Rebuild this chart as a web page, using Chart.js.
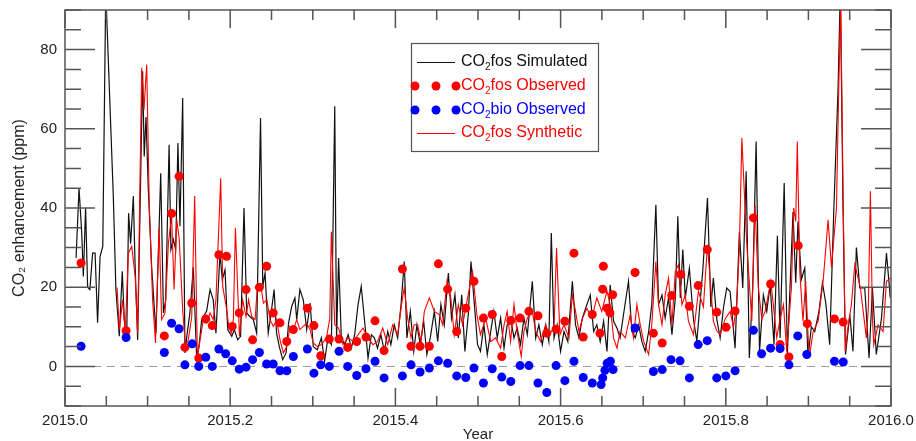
<!DOCTYPE html>
<html>
<head>
<meta charset="utf-8">
<script src="https://cdn.jsdelivr.net/npm/chart.js@4.4.1/dist/chart.umd.min.js"></script>
<style>
  html, body { margin: 0; padding: 0; background: #fff; }
  #wrap { width: 916px; height: 441px; }
</style>
</head>
<body>
<div id="wrap"><canvas id="co2-chart" width="916" height="441"></canvas></div>
<script>
// day of year 2015 -> value (ppm)
const simDays = [4.9, 6.2, 7.4, 8.1, 9.1, 10, 11, 12.2, 13.3, 14.4, 15.5, 16.7, 18, 21.3, 22.5, 24, 25.3, 26.2, 27.3, 28.1, 29, 30.2, 30.9, 32.1, 34.3, 35, 35.8, 36.8, 38.3, 40.2, 42.3, 43.5, 44.5, 46, 46.8, 47.9, 48.9, 49.9, 50.8, 52, 53, 54, 55.2, 56.7, 58.2, 59.2, 60.4, 62.6, 64.1, 65.5, 66.7, 68.5, 69.5, 70.7, 71.9, 73.7, 74.8, 76.3, 77.6, 79.1, 80.3, 81.7, 83.2, 84.7, 86.4, 87.4, 88.4, 89.8, 90.9, 92.4, 93.5, 94.7, 96.2, 97.7, 98.8, 100.2, 101.6, 102.4, 103.8, 105.3, 106.8, 108.3, 109.7, 111.5, 113.3, 114.7, 116.2, 117.7, 119.2, 120, 120.9, 122.1, 123.6, 125.1, 126.5, 128, 129.5, 130.9, 132.4, 133.9, 135.4, 136.7, 138.1, 139.6, 141.1, 142.6, 144, 145.5, 147, 148.5, 149.9, 151.1, 152.6, 154.1, 155.5, 157, 158.5, 159.9, 161.4, 163.2, 164.7, 166.1, 167.6, 169.4, 170.8, 172.3, 173.8, 175.3, 176.7, 178.2, 179.4, 180.9, 182.3, 183.6, 185.1, 186.6, 188.1, 189.5, 191, 192.5, 194, 195.4, 196.9, 198.4, 199.8, 201.3, 202.8, 204.3, 206.5, 208, 209.4, 210.9, 212.4, 213.8, 214.9, 216.1, 217.5, 219, 220.5, 222.2, 224.2, 225.6, 227.1, 228.6, 230.6, 232.1, 233.6, 235, 236.5, 238, 239.5, 240.9, 242.4, 243.9, 245.3, 246.8, 249, 250.5, 252, 253.5, 254.9, 256.4, 257.9, 259.3, 261.1, 262.3, 263.8, 265.2, 266.7, 268.2, 269.7, 270.8, 271.9, 273, 274.1, 275.9, 277.7, 279.2, 281.8, 283.9, 285.4, 286.5, 288, 289.5, 291, 292.4, 293.9, 296.1, 298, 299.5, 301, 302.4, 303.9, 305.4, 306.9, 308.6, 310.1, 311.6, 313.3, 314.8, 316, 317.8, 319.2, 321.7, 322.9, 323.9, 325.4, 326.9, 328.3, 329.8, 331.3, 333.2, 334.7, 336.2, 337.9, 339.7, 341.6, 342.6, 343.8, 344.9, 346.8, 348.2, 349.7, 351.2, 353.4, 355.3, 356.8, 358.5, 360.8, 363, 364.7];
const simValues = [27.4, 45, 33.7, 22.7, 40, 20, 19.4, 28.6, 28.6, 11, 27.8, 30.3, 95, 43.8, 19.4, 7.6, 24, 11.8, 8.4, 38.7, 31, 43, 27, 6.7, 74.5, 53, 63, 45, 25, 8.4, 48.8, 13.5, 16.8, 56, 29.5, 32, 29.5, 56.4, 35.4, 67.8, 3.4, 8.4, 13.5, 25, 1.7, 5, 11.8, 14, 19.4, 16.8, 8.4, 28.6, 21.9, 24.4, 9.3, 7.6, 9.3, 6.7, 7.6, 40, 13.5, 12.6, 11.8, 8.4, 62.7, 20.2, 23.6, 8.4, 12.6, 19.4, 8.4, 5, 1.7, 3.4, 11, 15.2, 17.3, 11.8, 19.4, 16.8, 9.3, 16, 5, 4.2, 7.2, 1.3, 7.2, 5.5, 65.7, 7.2, 27.4, 7.2, 5.5, 8, 4.6, 8, 15.6, 20.2, 11.4, 2.1, 8, 7.2, 4.6, 8, 3.8, 8.8, 5.5, 10.5, 7.2, 15.6, 26.5, 7.2, 13.9, 3.8, 10.5, 5.5, 11.4, 3, 7.2, 13.9, 6.3, 15.6, 10.5, 23.6, 12.2, 18.1, 7.2, 18.1, 3.8, 13.1, 26.5, 15.6, 5.5, 3.8, 10.5, 3, 8.8, 13.9, 7.2, 12.2, 4.6, 10.5, 12.2, 7.2, 9.7, 5.5, 12.2, 8, 21.5, 7.2, 10.5, 5.5, 10.5, 6.3, 33.7, 7.2, 10.5, 3.8, 8.8, 6.3, 21.5, 10.5, 7.2, 12.2, 15.6, 18, 8.8, 10.5, 6.3, 11.4, 3.8, 20.6, 11.4, 9.7, 7.2, 13.1, 21.5, 8.8, 7.2, 10.5, 6.3, 3.8, 8.8, 15.6, 40.8, 15.6, 18, 12.2, 17.3, 8, 17.3, 37.9, 17.3, 29.5, 17.3, 24.8, 12, 6.3, 24, 42.5, 15, 22.3, 12, 7.2, 15, 19.8, 18.9, 4.6, 34, 19.8, 49.3, 2.1, 20, 56.8, 3.8, 18, 13.9, 20.6, 5.5, 33, 7.2, 46.3, 3, 39, 21.1, 36.6, 22, 24.8, 2.1, 10, 8.8, 14, 21.1, 16, 5.5, 39, 70, 95, 40, 3, 13.1, 3.8, 30, 19.8, 19.8, 2.1, 19.8, 3, 12.2, 28.6, 17.3];

const synDays = [23, 24, 25.5, 26.6, 28, 29.5, 31, 32.1, 33.9, 34.9, 36.1, 37.2, 38.7, 40, 41.6, 42.7, 44.2, 45.7, 47.1, 48.2, 49.4, 50.5, 52, 53.2, 54.5, 56, 57.3, 58.5, 59.7, 61.1, 62.6, 64.1, 65.5, 66.7, 68.8, 69.7, 71.2, 72.2, 73.4, 74.4, 75.3, 77.1, 78.5, 80, 81.1, 82.5, 84, 85, 86.5, 87.7, 89.2, 90.6, 92.1, 93.5, 95, 96.5, 98, 99.4, 100.9, 102.4, 103.8, 105.3, 106.8, 108.3, 109.7, 111.5, 113.3, 115.5, 117, 117.7, 119.2, 120.9, 122.8, 125.1, 127.3, 129.5, 131.7, 133.9, 136.1, 138.1, 140.4, 142.6, 144.8, 147, 148.7, 149.9, 151.4, 152.9, 154.3, 155.8, 157.3, 158.8, 161, 163.2, 165.4, 166.9, 168.8, 170.5, 172, 173.8, 175.7, 177.9, 180.1, 182, 183.6, 185.9, 188.1, 190.3, 192.5, 194, 195.4, 196.9, 198.4, 199.8, 201.6, 202.8, 204.3, 206.5, 208, 210.2, 212.4, 213.8, 216.1, 217.2, 218.7, 220.5, 222.7, 224.2, 225.6, 227.1, 228.6, 230.6, 232.8, 235, 237.2, 239.5, 240.9, 242.4, 243.9, 245.3, 247.6, 249.8, 251.2, 252.7, 254.2, 255.7, 257.9, 259.3, 261.1, 262.3, 263.8, 265.2, 266.7, 268.2, 269.7, 271.1, 272.6, 274.1, 275.5, 277.7, 279.9, 282.1, 283.9, 286.5, 288, 289.5, 291.7, 293.9, 295.4, 296.8, 298, 299.1, 300.1, 301.3, 303.5, 304.9, 306.4, 307.9, 309.4, 311.9, 314.5, 316, 317.5, 318.9, 321, 322, 322.9, 323.6, 324.7, 326.1, 327.3, 328.8, 330.6, 332.8, 335, 337.2, 338.7, 340.9, 341.9, 342.8, 343.8, 344.8, 346, 347.5, 349, 351.5, 354.1, 355, 355.9, 356.8, 357.4, 359.3, 361.5, 363, 364.7];
const synValues = [19.9, 9.3, 16.8, 8.4, 28.6, 30.3, 22.7, 8.4, 75.4, 64.8, 76.2, 42, 16.8, 5.9, 35, 11.8, 13.5, 31.2, 37.9, 19.4, 37, 32, 14.3, 5, 6.7, 12.6, 43, 2.5, 6.7, 11.8, 10.9, 13.5, 11.8, 16.8, 47.5, 20.2, 15.2, 10.9, 8.4, 11.8, 35, 7.6, 16.8, 12.6, 16.8, 12.6, 11.8, 20.2, 20.2, 16, 16.8, 11.8, 10.1, 11.8, 6.7, 3.4, 5, 10.1, 9.3, 11.8, 9.3, 10.1, 10.9, 9.3, 5.9, 5, 5.5, 7.2, 12, 34, 10.5, 9.7, 5.5, 7.2, 6.3, 8, 9.7, 7.2, 5.5, 6.3, 9.7, 5.5, 10.5, 8, 15.6, 19.8, 12.2, 7.2, 10.5, 10.5, 6.3, 13.9, 17.3, 13.9, 13.1, 10.5, 21.5, 17.3, 8, 15.6, 10.5, 17.3, 24, 13.1, 8, 12.2, 6.3, 7.2, 4.6, 10.5, 13.9, 6.3, 15.6, 8.8, 2.5, 8.8, 12.2, 13.9, 8.8, 6.3, 10.5, 8, 9.7, 29.9, 8, 10.5, 7.2, 18, 13.9, 8.8, 12, 14.7, 12.2, 17.3, 13.9, 19, 15.6, 7.2, 4.6, 8.8, 7.2, 13.1, 7.2, 15.6, 10.5, 6.3, 3, 10.5, 26.5, 15.6, 10.5, 18, 22.3, 10.5, 24, 25.7, 15.6, 18, 11.4, 8, 19, 15, 30.7, 11.4, 9, 8, 12, 13.9, 10, 15.6, 30, 57.7, 45, 30.7, 11.4, 40.8, 19.8, 12, 13.9, 21.5, 7.2, 12, 15.6, 3.8, 20, 40, 36.6, 56.8, 24, 11.4, 21.5, 2.1, 8.8, 11.4, 21.5, 37, 25, 40, 70, 92, 45, 3.8, 10, 15.6, 25.7, 19.8, 7.2, 15, 44.2, 12, 5.5, 10.5, 8.8, 21.5, 22.3];

const fosObsDays = [7.1, 27, 43.9, 47.1, 50.4, 53, 56, 59.1, 62.2, 65.1, 68, 71.4, 73.9, 77, 80, 82.9, 85.9, 89.1, 92, 95, 98, 100.9, 107.1, 110, 113, 116.8, 121.1, 124.9, 128.9, 133, 137, 141, 149.1, 152.9, 156.9, 161, 165, 169.1, 173.1, 177.1, 180.7, 184.9, 188.8, 193, 197, 201.1, 205, 209, 212.9, 217, 220.9, 224.9, 229, 233, 236.4, 237.6, 237.9, 239.6, 240.8, 242, 251.9, 260, 263.9, 268.1, 272.1, 275.9, 279.8, 283.8, 288, 292.1, 296.1, 304.2, 311.8, 316, 319.9, 324, 328, 340, 343.9];
const fosObsValues = [26.1, 9, 7.7, 38.6, 48, 4.8, 16, 2.1, 12, 10.3, 28.2, 27.8, 10.1, 13.5, 19.4, 6.7, 20, 25.3, 13.5, 11, 6.3, 9.3, 14.7, 10.3, 2.7, 6.9, 6.9, 4.8, 6.3, 7.4, 11.5, 4, 24.6, 5.1, 5.1, 5.1, 25.9, 19.5, 8.8, 14.7, 21.5, 12.2, 13.1, 2.5, 11.6, 12.2, 13.9, 12.8, 8.4, 9.4, 11.4, 28.6, 7.4, 13.1, 8.4, 19.5, 25.3, 14.7, 13.5, 18.1, 23.7, 8.4, 5.9, 17.9, 23.2, 15.2, 20.4, 29.5, 13.7, 9.9, 14, 37.5, 20.8, 5.5, 2.4, 30.5, 10.8, 12, 11.2];

const bioObsDays = [7.1, 27, 43.9, 47.1, 50.4, 53, 56.2, 59.1, 62.2, 65.1, 68, 71, 73.9, 77, 80, 82.9, 85.9, 89.1, 92, 95, 98, 100.9, 107.1, 110, 113, 116.8, 121.1, 124.9, 128.9, 133, 137, 141, 149.1, 152.9, 156.9, 161, 165, 169.1, 173.1, 177.1, 180.7, 184.9, 188.8, 193, 197, 201.1, 205, 209, 212.9, 217, 220.9, 224.9, 229, 233, 236.9, 237.6, 238.6, 239.6, 241, 242.2, 251.9, 260, 263.9, 267.8, 271.8, 275.9, 279.8, 283.8, 288, 292, 296.1, 304.2, 307.8, 311.8, 316, 319.9, 323.8, 327.8, 340, 343.9];
const bioObsValues = [5.1, 7.3, 3.5, 10.9, 9.5, 0.4, 5.7, 0, 2.3, 0, 4.4, 3.2, 1.4, -0.7, -0.2, 1.7, 3.5, 0.6, 0.6, -1.1, -1.1, 2.5, 4.4, -1.7, 0.4, 0, 3.8, 0, -2.3, -0.6, 1.3, -2.9, -2.4, 0.4, -1.4, -0.4, 1.4, 0.8, -2.4, -2.8, -0.4, -4.2, -0.6, -2.7, -3.8, 0.2, 0.2, -4.2, -6.6, 0.2, -3.6, 1.3, -2.8, -4.2, -4.6, -2.9, -1, 0.8, 1.3, -0.8, 9.7, -1.3, -0.8, 1.7, 1.4, -2.9, 5.5, 6.5, -2.9, -2.4, -1.1, 9.1, 3.2, 4.6, 4.5, 0.4, 7.7, 3, 1.3, 1.1];

const xTickValues = [2015.0, 2015.2, 2015.4, 2015.6, 2015.8, 2016.0];
const yTickValues = [0, 20, 40, 60, 80];
const legendOrder = ['CO₂fos Simulated', 'CO₂fos Observed', 'CO₂bio Observed', 'CO₂fos Synthetic'];

const FONT = "'Liberation Sans', Arial, Helvetica, sans-serif";
const toYear = d => 2015 + d / 365;
const toPoints = (days, values) => days.map((d, i) => ({ x: toYear(d), y: values[i] }));

// inward ticks on all four sides, box frame, dashed zero line and the boxed legend
const framePlugin = {
  id: 'frame',
  beforeDatasetsDraw(chart) {
    const { ctx, chartArea: a, scales: { y } } = chart;
    const y0 = Math.round(y.getPixelForValue(0)) + 0.5;
    ctx.save();
    ctx.strokeStyle = '#9a9a9a';
    ctx.lineWidth = 1;
    ctx.setLineDash([8, 6]);
    ctx.beginPath();
    ctx.moveTo(a.left, y0);
    ctx.lineTo(a.right, y0);
    ctx.stroke();
    ctx.restore();
  },
  afterDatasetsDraw(chart) {
    const { ctx, chartArea: a, scales: { x, y } } = chart;
    ctx.save();
    ctx.strokeStyle = '#555';
    ctx.lineWidth = 1.5;
    ctx.beginPath();
    for (let k = 0; k <= 20; k++) {
      const v = 2015 + k * 0.05;
      const px = x.getPixelForValue(v);
      const major = k % 4 === 0;
      const len = major ? 18 : 10;
      ctx.moveTo(px, a.bottom); ctx.lineTo(px, a.bottom - len);
      ctx.moveTo(px, a.top); ctx.lineTo(px, a.top + len);
    }
    for (let v = -10; v <= 90; v += 5) {
      const py = y.getPixelForValue(v);
      const major = v % 20 === 0;
      const len = major ? 30 : 16;
      ctx.moveTo(a.left, py); ctx.lineTo(a.left + len, py);
      ctx.moveTo(a.right, py); ctx.lineTo(a.right - len, py);
    }
    ctx.stroke();
    ctx.strokeRect(a.left, a.top, a.right - a.left, a.bottom - a.top);

    // legend box
    const box = { left: 411, top: 43, width: 187, height: 108 };
    ctx.fillStyle = '#fff';
    ctx.fillRect(box.left, box.top, box.width, box.height);
    ctx.lineWidth = 1.2;
    ctx.strokeStyle = '#555';
    ctx.strokeRect(box.left + 0.5, box.top + 0.5, box.width, box.height);

    const rowY = [62, 86, 110, 133];
    legendOrder.forEach((label, i) => {
      const ds = chart.data.datasets.find(d => d.label === label);
      const cy = rowY[i];
      if (ds.showLine) {
        ctx.strokeStyle = ds.borderColor;
        ctx.lineWidth = 1;
        ctx.beginPath();
        ctx.moveTo(417, cy + 0.5);
        ctx.lineTo(455, cy + 0.5);
        ctx.stroke();
      } else {
        ctx.fillStyle = ds.pointBackgroundColor;
        [415, 436, 456].forEach(cx => {
          ctx.beginPath();
          ctx.arc(cx, cy, 4.5, 0, Math.PI * 2);
          ctx.fill();
        });
      }
      const [head, tail] = label.split('₂');
      ctx.fillStyle = ds.legendText;
      ctx.textBaseline = 'middle';
      ctx.textAlign = 'left';
      ctx.font = `16px ${FONT}`;
      let tx = 461;
      ctx.fillText(head, tx, cy);
      tx += ctx.measureText(head).width;
      ctx.font = `10px ${FONT}`;
      ctx.fillText('2', tx, cy + 5);
      tx += ctx.measureText('2').width;
      ctx.font = `16px ${FONT}`;
      ctx.fillText(tail, tx, cy);
    });
    ctx.restore();
  }
};

new Chart(document.getElementById('co2-chart'), {
  type: 'scatter',
  data: {
    datasets: [
      {
        label: 'CO₂bio Observed',
        data: toPoints(bioObsDays, bioObsValues),
        showLine: false,
        pointRadius: 4.5,
        pointBackgroundColor: '#0000ff',
        pointBorderWidth: 0,
        legendText: '#0000ff',
        order: 0
      },
      {
        label: 'CO₂fos Observed',
        data: toPoints(fosObsDays, fosObsValues),
        showLine: false,
        pointRadius: 4.5,
        pointBackgroundColor: '#ff0000',
        pointBorderWidth: 0,
        legendText: '#ff0000',
        order: 1
      },
      {
        label: 'CO₂fos Synthetic',
        data: toPoints(synDays, synValues),
        showLine: true,
        borderColor: '#ff0000',
        borderWidth: 1.1,
        pointRadius: 0,
        tension: 0,
        legendText: '#ff0000',
        order: 2
      },
      {
        label: 'CO₂fos Simulated',
        data: toPoints(simDays, simValues),
        showLine: true,
        borderColor: '#111111',
        borderWidth: 1.2,
        pointRadius: 0,
        tension: 0,
        legendText: '#111111',
        order: 3
      }
    ]
  },
  options: {
    responsive: false,
    animation: false,
    layout: { padding: { top: 10, right: 25, left: 0, bottom: 0 } },
    plugins: { legend: { display: false }, tooltip: { enabled: false } },
    scales: {
      x: {
        type: 'linear',
        min: 2015,
        max: 2016,
        afterBuildTicks: axis => { axis.ticks = xTickValues.map(v => ({ value: v })); },
        afterFit: axis => {
          axis.height = 35;
          axis.paddingLeft = 0;
          axis.paddingRight = 0;
        },
        grid: { display: false, drawTicks: false },
        border: { display: false },
        ticks: {
          autoSkip: false,
          maxRotation: 0,
          padding: 6,
          color: '#222',
          font: { family: FONT, size: 15 },
          callback: v => v.toFixed(1)
        },
        title: { display: true, text: 'Year', color: '#222', font: { family: FONT, size: 15 }, padding: { top: 0, bottom: -3 } }
      },
      y: {
        min: -10,
        max: 90,
        afterBuildTicks: axis => { axis.ticks = yTickValues.map(v => ({ value: v })); },
        afterFit: axis => {
          axis.width = 65;
          axis.paddingTop = 0;
          axis.paddingBottom = 0;
        },
        grid: { display: false, drawTicks: false },
        border: { display: false },
        ticks: { padding: 8, color: '#222', font: { family: FONT, size: 15 } },
        title: {
          display: true,
          text: 'CO₂ enhancement (ppm)',
          color: '#222',
          font: { family: FONT, size: 16 },
          padding: { top: 10, bottom: 0 }
        }
      }
    }
  },
  plugins: [framePlugin]
});
</script>
</body>
</html>
